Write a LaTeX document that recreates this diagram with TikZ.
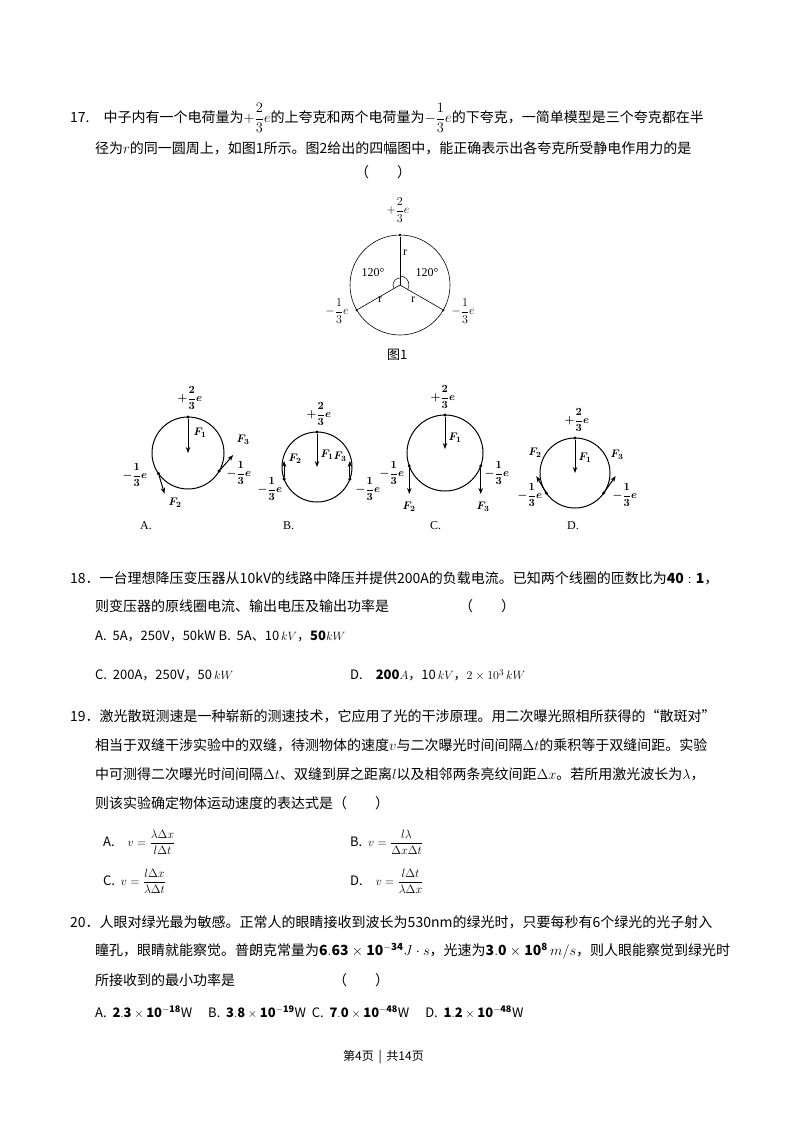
\documentclass[tikz,border=0pt]{standalone}
\usepackage{amsmath,amssymb}
\usepackage{fontspec}
\setmainfont{Noto Sans CJK SC}
\newfontfamily\serifl{Liberation Serif}
\usetikzlibrary{arrows.meta,calc}
\begin{document}
\begin{tikzpicture}[x=1pt,y=-1pt,
  tl/.style={anchor=west,inner sep=0pt,font=\fontsize{14}{16}\selectfont},
  sm/.style={inner sep=1pt,font=\fontsize{10}{12}\selectfont},
  bd/.style={inner sep=1pt,font=\fontsize{11}{12}\selectfont\bfseries},
  circ/.style={line width=1pt},
  force/.style={line width=1pt,-{Stealth[length=6pt]}},
  dot/.style={circle,fill,inner sep=1.2pt}]
\useasboundingbox (0,0) rectangle (800,1132);
\fill[white] (0,0) rectangle (800,1132);
% Q17
\node[tl] (q17a) at (70,118) {17.\quad 中子内有一个电荷量为$+\dfrac{2}{3}e$的上夸克和两个电荷量为$-\dfrac{1}{3}e$的下夸克，一简单模型是三个夸克都在半};
\node[tl] (q17b) at (95,148) {径为$r$的同一圆周上，如图1所示。图2给出的四幅图中，能正确表示出各夸克所受静电作用力的是};
\node[tl] (q17c) at (355,172) {（\qquad ）};
% Fig 1
\coordinate (O) at (400,285);
\draw[line width=0.6pt] (O) circle (50);
\node[dot,inner sep=1pt] (t) at (400,235) {};
\node[dot,inner sep=1pt] (l) at ($(O)+(150:50)$) {};
\node[dot,inner sep=1pt] (r) at ($(O)+(30:50)$) {};
\draw[line width=0.8pt] (O) -- (t); \draw[line width=0.6pt] (O)--(l); \draw[line width=0.6pt] (O)--(r);
\draw[line width=0.5pt] ($(O)+(270:7)$) arc (270:150:7);
\draw[line width=0.5pt] ($(O)+(-90:9)$) arc (-90:30:9);
\node[sm,font=\serifl\fontsize{12}{12}\selectfont] (r1) at (405,253) {r};
\node[sm,font=\serifl\fontsize{12}{12}\selectfont] (r2) at (380,300) {r};
\node[sm,font=\serifl\fontsize{12}{12}\selectfont] (r3) at (413,300) {r};
\node[sm,font=\serifl\fontsize{12}{12}\selectfont] (a1) at (373,273) {120°};
\node[sm,font=\serifl\fontsize{12}{12}\selectfont] (a2) at (427,273) {120°};
\node[sm,font=\fontsize{13}{13}\selectfont] (q1) at (398,210) {$+\dfrac{2}{3}e$};
\node[sm,font=\fontsize{13}{13}\selectfont] (q2) at (337,311) {$-\dfrac{1}{3}e$};
\node[sm,font=\fontsize{13}{13}\selectfont] (q3) at (463,311) {$-\dfrac{1}{3}e$};
\node[tl,font=\fontsize{13}{14}\selectfont] (fig1) at (387,355) {图1};
% Fig 2 A
\begin{scope}[shift={(188,453)}]
\draw[circ] (0,0) circle (36);
\node[dot] (At) at (0,-36) {}; \node[dot] (Al) at (145:36) {}; \node[dot] (Ar) at (30:36) {};
\draw[force] (At) -- (0,0); \draw[force] (Al) -- ++(6,20); \draw[force] (Ar) -- ++(14,-16);
\node[bd] (AF1) at (12,-20) {$\boldsymbol{F_1}$};
\node[bd] (AF2) at (-13,50) {$\boldsymbol{F_2}$};
\node[bd] (AF3) at (55,-13) {$\boldsymbol{F_3}$};
\node[bd] (Aq1) at (2,-55) {$\boldsymbol{+\dfrac{2}{3}e}$};
\node[bd] (Aq2) at (-53,22) {$\boldsymbol{-\dfrac{1}{3}e}$};
\node[bd] (Aq3) at (51,20) {$\boldsymbol{-\dfrac{1}{3}e}$};
\end{scope}
\node[tl,font=\serifl\fontsize{12}{12}\selectfont] (LA) at (140,526) {A.};
% B
\begin{scope}[shift={(317,467)}]
\draw[circ] (0,0) circle (35);
\node[dot] (Bt) at (0,-35) {}; \node[dot] (Bl) at (160:35) {}; \node[dot] (Br) at (20:35) {};
\draw[force] (Bt) -- (0,0); \draw[force] (Bl) -- ++(0,-18); \draw[force] (Br) -- ++(0,-18);
\node[bd] (BF1) at (10,-12) {$\boldsymbol{F_1}$};
\node[bd] (BF2) at (-22,-8) {$\boldsymbol{F_2}$};
\node[bd] (BF3) at (23,-10) {$\boldsymbol{F_3}$};
\node[bd] (Bq1) at (2,-53) {$\boldsymbol{+\dfrac{2}{3}e}$};
\node[bd] (Bq2) at (-47,22) {$\boldsymbol{-\dfrac{1}{3}e}$};
\node[bd] (Bq3) at (51,22) {$\boldsymbol{-\dfrac{1}{3}e}$};
\end{scope}
\node[tl,font=\serifl\fontsize{12}{12}\selectfont] (LB) at (283,526) {B.};
% C
\begin{scope}[shift={(445,453)}]
\draw[circ] (0,0) circle (38);
\node[dot] (Ct) at (0,-38) {}; \node[dot] (Cl) at (160:38) {}; \node[dot] (Cr) at (20:38) {};
\draw[force] (Ct) -- (0,-4); \draw[force] (Cl) -- ++(0,28); \draw[force] (Cr) -- ++(0,28);
\node[bd] (CF1) at (10,-15) {$\boldsymbol{F_1}$};
\node[bd] (CF2) at (-36,54) {$\boldsymbol{F_2}$};
\node[bd] (CF3) at (38,54) {$\boldsymbol{F_3}$};
\node[bd] (Cq1) at (-2,-56) {$\boldsymbol{+\dfrac{2}{3}e}$};
\node[bd] (Cq2) at (-53,20) {$\boldsymbol{-\dfrac{1}{3}e}$};
\node[bd] (Cq3) at (52,20) {$\boldsymbol{-\dfrac{1}{3}e}$};
\end{scope}
\node[tl,font=\serifl\fontsize{12}{12}\selectfont] (LC) at (430,526) {C.};
% D
\begin{scope}[shift={(575,473)}]
\draw[circ] (0,0) circle (35);
\node[dot] (Dt) at (0,-35) {}; \node[dot] (Dl) at (145:35) {}; \node[dot] (Dr) at (35:35) {};
\draw[force] (Dt) -- (0,0); \draw[force] (Dl) -- ++(-10,-17); \draw[force] (Dr) -- ++(12,-17);
\node[bd] (DF1) at (10,-15) {$\boldsymbol{F_1}$};
\node[bd] (DF2) at (-40,-20) {$\boldsymbol{F_2}$};
\node[bd] (DF3) at (42,-18) {$\boldsymbol{F_3}$};
\node[bd] (Dq1) at (2,-53) {$\boldsymbol{+\dfrac{2}{3}e}$};
\node[bd] (Dq2) at (-45,22) {$\boldsymbol{-\dfrac{1}{3}e}$};
\node[bd] (Dq3) at (50,22) {$\boldsymbol{-\dfrac{1}{3}e}$};
\end{scope}
\node[tl,font=\serifl\fontsize{12}{12}\selectfont] (LD) at (567,526) {D.};
% Q18
\node[tl] (q18a) at (70,578) {18．一台理想降压变压器从10kV的线路中降压并提供200A的负载电流。已知两个线圈的匝数比为$\mathbf{40:1}$，};
\node[tl] (q18b) at (95,606) {则变压器的原线圈电流、输出电压及输出功率是\hspace{5em}（\qquad ）};
\node[tl,font=\fontsize{13}{14}\selectfont] (q18c) at (95,636) {A.\ \ 5A，250V，50kW B.\ \ 5A、10$\,kV$，$\mathbf{50}kW$};
\node[tl,font=\fontsize{13}{14}\selectfont] (q18d) at (95,675) {C.\ \ 200A，250V，50$\,kW$};
\node[tl,font=\fontsize{13}{14}\selectfont] (q18e) at (350,675) {D.\quad $\mathbf{200}A$，10$\,kV$，$2\times10^3\,kW$};
% Q19
\node[tl] (q19a) at (70,716) {19．激光散斑测速是一种崭新的测速技术，它应用了光的干涉原理。用二次曝光照相所获得的“散斑对”};
\node[tl] (q19b) at (95,745) {相当于双缝干涉实验中的双缝，待测物体的速度$v$与二次曝光时间间隔$\Delta t$的乘积等于双缝间距。实验};
\node[tl] (q19c) at (95,774) {中可测得二次曝光时间间隔$\Delta t$、双缝到屏之距离$l$以及相邻两条亮纹间距$\Delta x$。若所用激光波长为$\lambda$，};
\node[tl] (q19d) at (95,803) {则该实验确定物体运动速度的表达式是（\qquad ）};
\node[tl,font=\fontsize{13}{14}\selectfont] (o19a) at (103,842) {A.\quad $v=\dfrac{\lambda\Delta x}{l\Delta t}$};
\node[tl,font=\fontsize{13}{14}\selectfont] (o19b) at (350,842) {B.\ \ $v=\dfrac{l\lambda}{\Delta x\Delta t}$};
\node[tl,font=\fontsize{13}{14}\selectfont] (o19c) at (103,881) {C.\ \ $v=\dfrac{l\Delta x}{\lambda\Delta t}$};
\node[tl,font=\fontsize{13}{14}\selectfont] (o19d) at (350,881) {D.\quad $v=\dfrac{l\Delta t}{\lambda\Delta x}$};
% Q20
\node[tl] (q20a) at (70,922) {20．人眼对绿光最为敏感。正常人的眼睛接收到波长为530nm的绿光时，只要每秒有6个绿光的光子射入};
\node[tl] (q20b) at (95,951) {瞳孔，眼睛就能察觉。普朗克常量为$\mathbf{6.63\times10^{-34}}J\cdot s$，光速为$\mathbf{3.0\times10^8}\,m/s$，则人眼能察觉到绿光时};
\node[tl] (q20c) at (95,980) {所接收到的最小功率是\hspace{7em}（\qquad ）};
\node[tl,font=\fontsize{13}{14}\selectfont] (q20d) at (95,1012) {A.\ \ $\mathbf{2.3\times10^{-18}}$W\quad\ B.\ \ $\mathbf{3.8\times10^{-19}}$W\ \ C.\ \ $\mathbf{7.0\times10^{-48}}$W\quad\ D.\ \ $\mathbf{1.2\times10^{-48}}$W};
\node[tl,font=\fontsize{12}{13}\selectfont] (foot) at (343,1057) {第4页 \,|\, 共14页};
\end{tikzpicture}
\end{document}
